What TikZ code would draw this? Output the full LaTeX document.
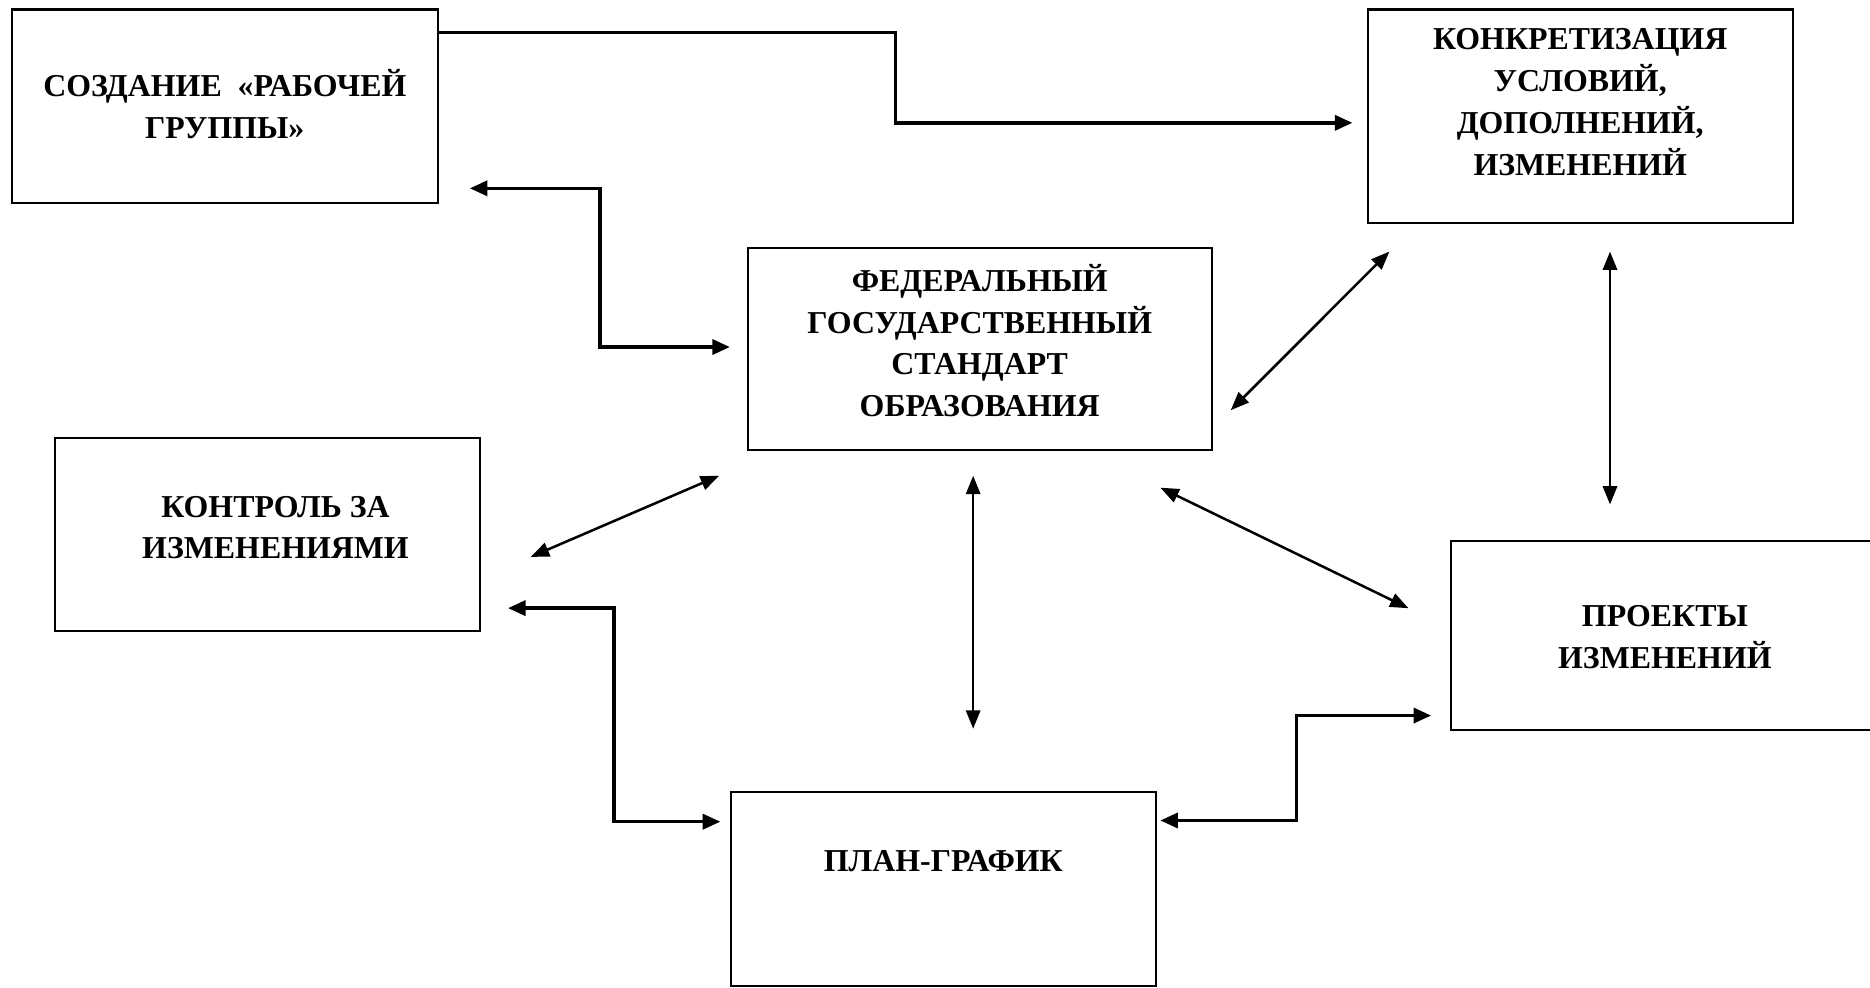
\documentclass[tikz,border=0pt]{standalone}
\usepackage{fontspec}
\setmainfont{Liberation Serif}
\usepackage{tikz}
\usetikzlibrary{arrows.meta}
\usetikzlibrary{positioning, calc}

\tikzset{
  blok/.style={draw, line width=0.5pt, inner sep=0pt},
  napis/.style={font=\bfseries\fontsize{7.6pt}{9.96pt}\selectfont, align=center, inner sep=0pt},
  tonk/.style={line width=0.6pt, {Triangle[length=4.4pt,width=3.4pt]}-{Triangle[length=4.4pt,width=3.4pt]}},
  tolst/.style={line width=0.8pt, {Triangle[length=4.2pt,width=3.6pt]}-{Triangle[length=4.2pt,width=3.6pt]}}
}

\begin{document}
\begin{tikzpicture}[x=0.01cm, y=-0.01cm]
    \useasboundingbox (0,0) rectangle (1568,828);

    % Блоки схемы
    \node[blok, minimum width=3.57cm, minimum height=1.62cm] (rg) at (188.5,89) {};
    \node[blok, minimum width=3.56cm, minimum height=1.79cm] (konk) at (1325,97.5) {};
    \node[blok, minimum width=3.89cm, minimum height=1.69cm] (fgos) at (821.5,292.5) {};
    \node[blok, minimum width=3.56cm, minimum height=1.62cm] (kontr) at (224,448) {};
    \node[blok, minimum width=3.58cm, minimum height=1.58cm] (proj) at (1396,533) {};
    \node[blok, minimum width=3.56cm, minimum height=1.63cm] (plan) at (791,745.5) {};

    % Надписи
    \node[napis] (rg-t) at (188.5,87.5) {СОЗДАНИЕ~ «РАБОЧЕЙ\\ГРУППЫ»};
    \node[napis] (konk-t) at (1325,85.5) {КОНКРЕТИЗАЦИЯ\\УСЛОВИЙ,\\ДОПОЛНЕНИЙ,\\ИЗМЕНЕНИЙ};
    \node[napis] (fgos-t) at (821.5,285.5) {ФЕДЕРАЛЬНЫЙ\\ГОСУДАРСТВЕННЫЙ\\СТАНДАРТ\\ОБРАЗОВАНИЯ};
    \node[napis] (kontr-t) at (231,442.5) {КОНТРОЛЬ ЗА\\ИЗМЕНЕНИЯМИ};
    \node[napis] (proj-t) at (1396,534.5) {ПРОЕКТЫ\\ИЗМЕНЕНИЙ};
    \node[napis] (plan-t) at (791,722) {ПЛАН-ГРАФИК};

    % Ломаные стрелки
    \draw[line width=0.8pt, -{Triangle[length=4.2pt,width=3.6pt]}]
        ($(rg.north east)+(0,20)$) -- ++(383,0) |- ($(konk.west)+(-12,5.5)$);
    \draw[tolst] ($(rg.south east)+(26,-13)$) -- ++(109,0) |- ($(fgos.west)+(-14,-1.5)$);
    \draw[tolst] ($(kontr.south east)+(23,-20)$) -- ++(89,0) |- ($(plan.west)+(-8,-56.5)$);
    \draw[tolst] ($(plan.east)+(3,-57.5)$) -- ++(114,0) |- ($(proj.west)+(-16,67)$);

    % Прямые стрелки
    \draw[tonk] ($(fgos.east)+(15,51.5)$) -- ($(konk.south west)+(19,23)$);
    \draw[tonk] ($(konk.south)+(25,23)$) -- ($(proj.north)+(-46,-30)$);
    \draw[tonk] ($(kontr.east)+(42,19)$) -- ($(fgos.south west)+(-23,21)$);
    \draw[tonk] ($(fgos.south)+(-5.5,21)$) -- ($(plan.north)+(25,-52)$);
    \draw[tonk] ($(fgos.south east)+(-44,31)$) -- ($(proj.west)+(-35,-23)$);
\end{tikzpicture}
\end{document}
